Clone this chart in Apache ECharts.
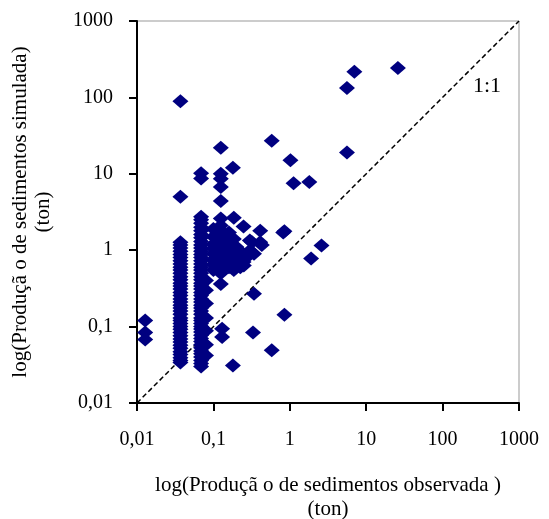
<!DOCTYPE html>
<html><head><meta charset="utf-8">
<script src="https://cdn.jsdelivr.net/npm/echarts@6/dist/echarts.min.js"></script>
<style>html,body{margin:0;padding:0;background:#fff}#c{width:549px;height:519px}</style>
</head><body><div id="c"></div>
<script>
// Observed (x) / simulated (y), ton
const xTickLabels = ['0,01','0,1','1','10','100','1000'];
const yTickLabels = ['0,01','0,1','1','10','100','1000'];
const oneToOne = [[0.01,0.01],[1000,1000]];

// dense column at observed ~0.037
const colAObs = 0.037;
const colASim = [0.034,0.036,0.039,0.043,0.047,0.052,0.057,0.063,0.069,0.076,0.084,0.092,0.1,0.11,0.12,0.13,0.145,0.16,0.175,0.19,0.21,0.23,0.255,0.28,0.31,0.34,0.37,0.41,0.45,0.5,0.55,0.6,0.66,0.73,0.8,0.88,0.97,1.07,1.17,1.27,5.0,89];

// dense column at observed ~0.069
const colBObs = 0.069;
const colBSim = [0.030,0.033,0.036,0.04,0.044,0.048,0.053,0.058,0.064,0.07,0.077,0.085,0.093,0.1,0.11,0.12,0.13,0.145,0.16,0.175,0.19,0.21,0.23,0.255,0.28,0.31,0.34,0.37,0.41,0.45,0.5,0.55,0.6,0.66,0.73,0.8,0.88,0.97,1.07,1.17,1.3,1.45,1.6,1.8,2.0,2.25,2.5,2.75,8.7,10.2];

// remaining points
const otherObs = [0.0128,0.0128,0.0128,
  0.08,0.08,0.08,0.08,0.08,0.08,0.08,
  0.125,0.125,0.125,0.125,0.125,0.125,0.125,0.125,0.125,0.125,0.125,0.125,0.125,0.125,0.125,0.125,0.125,0.125,0.125,
  0.1,0.1,0.1,0.1,0.1,0.1,0.1,0.1,
  0.16,0.16,0.16,0.16,0.16,
  0.185,0.185,0.185,0.185,0.18,
  0.2,0.2,0.225,0.225,0.248,0.248,0.25,0.26,0.3,0.3,0.32,0.34,0.41,0.41,0.43,
  0.58,1.02,1.12,1.8,5.6,5.6,7.0,26,
  0.85,0.82,2.6,1.9,
  0.125,0.34,0.85,0.13,0.13,0.33,0.58,0.18];
const otherSim = [0.12,0.084,0.068,
  0.042,0.058,0.088,0.13,0.2,0.3,0.4,
  0.5,0.56,0.62,0.7,0.78,0.87,0.97,1.1,1.25,1.4,1.6,1.8,2.1,2.6,4.4,6.7,8.6,10,22,
  0.55,0.65,0.75,0.9,1.05,1.2,1.5,1.9,
  0.6,0.8,1.0,1.3,1.7,
  2.65,1.4,0.85,0.55,12,
  1.1,0.7,0.97,0.6,2.04,0.7,0.63,0.77,1.34,0.99,1.27,0.9,1.8,1.27,1.17,
  27,15,7.5,7.8,19,133,216,242,
  1.77,1.7,1.15,0.78,
  0.36,0.27,0.143,0.094,0.073,0.084,0.049,0.031];

const pts = [];
colASim.forEach(v => pts.push([colAObs, v]));
colBSim.forEach(v => pts.push([colBObs, v]));
otherObs.forEach((o,i) => pts.push([o, otherSim[i]]));

const font = '"Liberation Serif", "Times New Roman", serif';
const fmt = v => String(v).replace('.', ',');
const chart = echarts.init(document.getElementById('c'), null, {renderer:'canvas'});
chart.setOption({
  animation:false,
  backgroundColor:'#fff',
  grid:{left:137,right:30,top:21,bottom:116,outerBoundsMode:'none',containLabel:false,
    show:true,borderColor:'#999',borderWidth:1,backgroundColor:'transparent'},
  xAxis:{type:'log',logBase:10,min:0.01,max:1000,
    name:'log(Produçã o de sedimentos observada )\n(ton)',nameLocation:'middle',nameGap:70,
    nameTextStyle:{fontFamily:font,fontSize:21,color:'#000',lineHeight:24},
    axisLine:{lineStyle:{color:'#000',width:2}},
    axisTick:{inside:false,length:8,lineStyle:{color:'#000',width:2}},
    axisLabel:{fontFamily:font,fontSize:20,color:'#000',margin:27,formatter:fmt},
    splitLine:{show:false},minorTick:{show:false}},
  yAxis:{type:'log',logBase:10,min:0.01,max:1000,
    name:'log(Produçã o de sedimentos simulada)\n(ton)',nameLocation:'middle',nameGap:82,nameRotate:90,
    nameTextStyle:{fontFamily:font,fontSize:21,color:'#000',lineHeight:23},
    axisLine:{lineStyle:{color:'#000',width:2}},
    axisTick:{inside:false,length:8,lineStyle:{color:'#000',width:2}},
    axisLabel:{fontFamily:font,fontSize:20,color:'#000',margin:24,formatter:fmt},
    splitLine:{show:false}},
  graphic:[{type:'text',left:473,top:75,style:{text:'1:1',font:'22px '+font,fill:'#000'}}],
  series:[
    {type:'line',data:oneToOne,symbol:'none',silent:true,z:1,
     lineStyle:{color:'#000',width:1.5,type:[5,3]}},
    {type:'scatter',data:pts,symbol:'diamond',symbolSize:[16,14],z:2,
     itemStyle:{color:'#000080',opacity:1}}
  ]
});
</script></body></html>
